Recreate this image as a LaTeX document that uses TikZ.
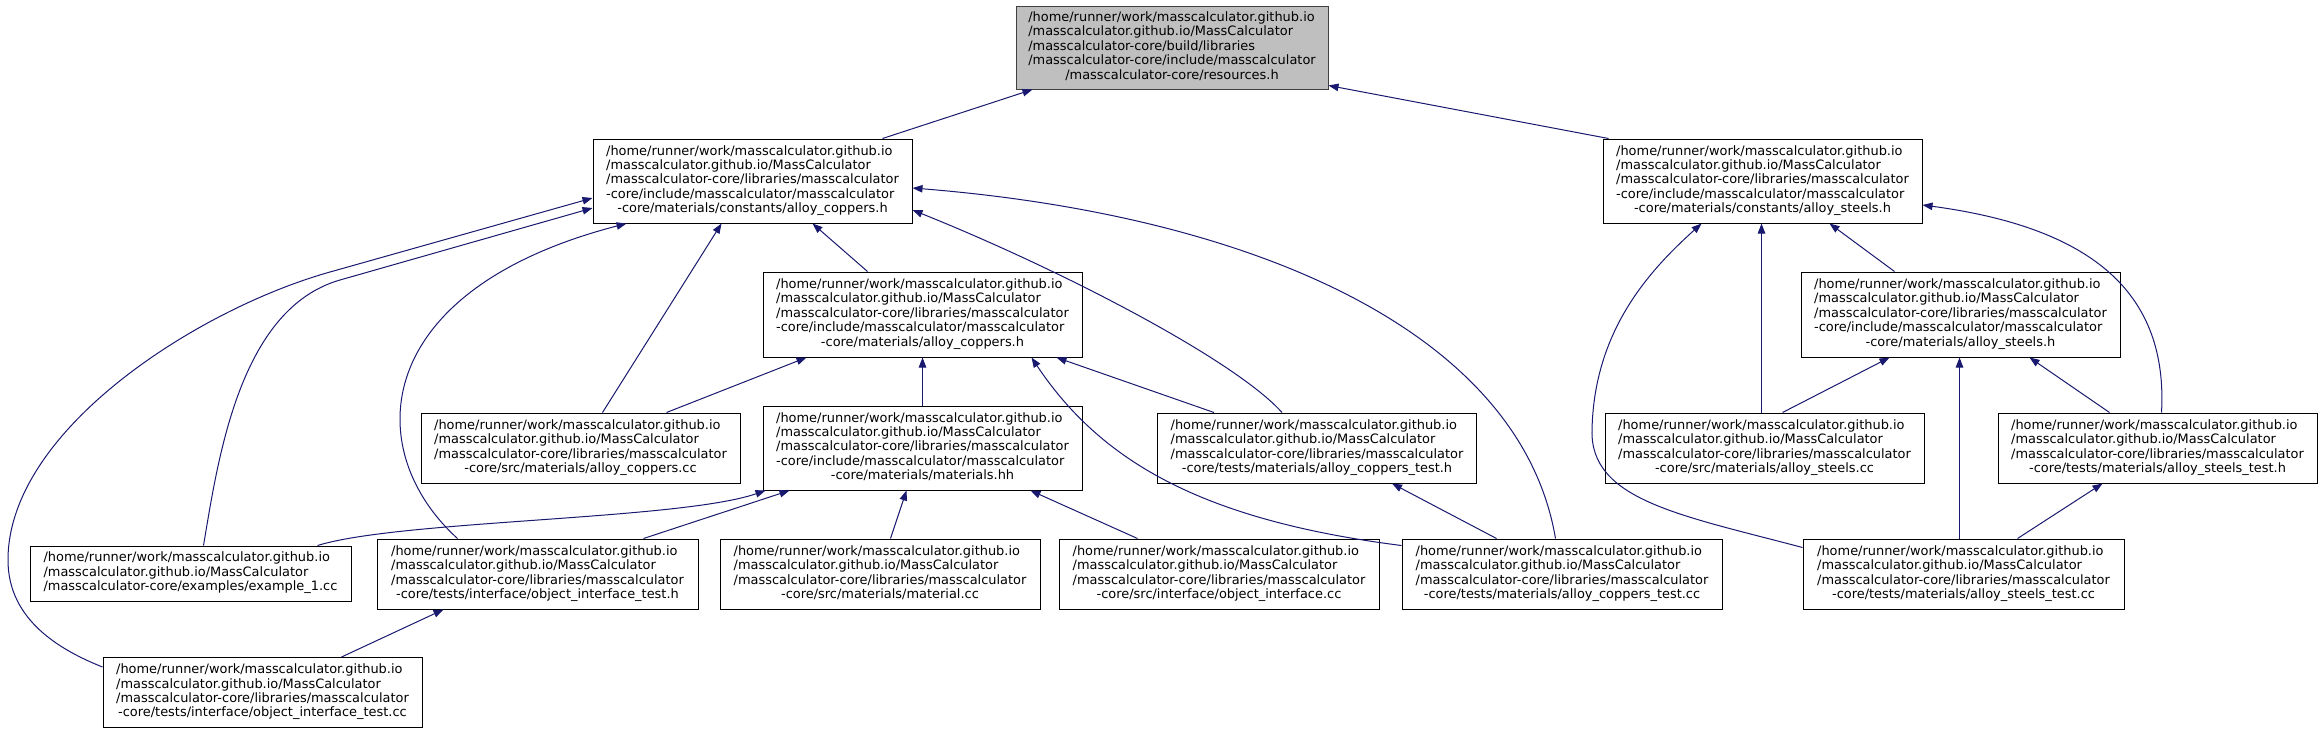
\documentclass[tikz,border=0pt]{standalone}
\usepackage{fontspec}
\setmainfont{DejaVu Sans}
\usetikzlibrary{arrows.meta,calc}
\definecolor{edgeblue}{HTML}{191970}
\definecolor{rootfill}{HTML}{BFBFBF}
\definecolor{rootdraw}{HTML}{404040}
\newcommand\mchdr{/home/runner/work/masscalculator.github.io\\/masscalculator.github.io/MassCalculator\\/masscalculator-core/libraries/masscalculator}
\newcommand\nodetxt[2]{\begin{tabular}{@{}l@{}}#1\\\multicolumn{1}{@{}c@{}}{#2}\end{tabular}}
\tikzset{
  filebox/.style 2 args={draw=black, fill=white, line width=0.75pt, inner sep=0pt,
    minimum width=#1*0.75pt, minimum height=#2*0.75pt,
    font=\fontsize{9.7}{10.8}\selectfont},
  rootbox/.style={fill=rootfill, draw=rootdraw},
  dep/.style={draw=edgeblue, line width=0.75pt, -{Triangle[length=7.5pt,width=5.6pt]}}
}
\begin{document}
\begin{tikzpicture}[x=0.75pt,y=-0.75pt]
\fill[white] (0,0) rectangle (2322,733);
\useasboundingbox (0,0) rectangle (2322,733);
% row 0
\node[filebox={312}{83}, rootbox] (R) at (1172,47.5) {\nodetxt{/home/runner/work/masscalculator.github.io\\/masscalculator.github.io/MassCalculator\\/masscalculator-core/build/libraries\\/masscalculator-core/include/masscalculator}{/masscalculator-core/resources.h}};
% row 1
\node[filebox={319}{84}] (C1) at (752.5,181) {\nodetxt{\mchdr\\-core/include/masscalculator/masscalculator}{-core/materials/constants/alloy\_coppers.h}};
\node[filebox={319}{84}] (S1) at (1762.5,181) {\nodetxt{\mchdr\\-core/include/masscalculator/masscalculator}{-core/materials/constants/alloy\_steels.h}};
% row 2
\node[filebox={319}{85}] (C2) at (922.5,314.5) {\nodetxt{\mchdr\\-core/include/masscalculator/masscalculator}{-core/materials/alloy\_coppers.h}};
\node[filebox={319}{85}] (S2) at (1960.5,314.5) {\nodetxt{\mchdr\\-core/include/masscalculator/masscalculator}{-core/materials/alloy\_steels.h}};
% row 3
\node[filebox={319}{70}] (CC) at (580.5,448) {\nodetxt{\mchdr}{-core/src/materials/alloy\_coppers.cc}};
\node[filebox={319}{84}] (M) at (922.5,448) {\nodetxt{\mchdr\\-core/include/masscalculator/masscalculator}{-core/materials/materials.hh}};
\node[filebox={319}{70}] (T1) at (1317,448) {\nodetxt{\mchdr}{-core/tests/materials/alloy\_coppers\_test.h}};
\node[filebox={319}{70}] (SC) at (1764.5,448) {\nodetxt{\mchdr}{-core/src/materials/alloy\_steels.cc}};
\node[filebox={319}{70}] (ST) at (2157.5,448) {\nodetxt{\mchdr}{-core/tests/materials/alloy\_steels\_test.h}};
% row 4
\node[filebox={321}{55}] (E1) at (190.5,573.5) {\nodetxt{/home/runner/work/masscalculator.github.io\\/masscalculator.github.io/MassCalculator}{/masscalculator-core/examples/example\_1.cc}};
\node[filebox={321}{70}] (OIT) at (537.5,574) {\nodetxt{\mchdr}{-core/tests/interface/object\_interface\_test.h}};
\node[filebox={320}{70}] (MC) at (880,574) {\nodetxt{\mchdr}{-core/src/materials/material.cc}};
\node[filebox={320}{70}] (OI) at (1219,574) {\nodetxt{\mchdr}{-core/src/interface/object\_interface.cc}};
\node[filebox={320}{70}] (CT) at (1562,574) {\nodetxt{\mchdr}{-core/tests/materials/alloy\_coppers\_test.cc}};
\node[filebox={321}{70}] (STC) at (1963.5,574) {\nodetxt{\mchdr}{-core/tests/materials/alloy\_steels\_test.cc}};
% row 5
\node[filebox={319}{70}] (OITC) at (262.5,692.5) {\nodetxt{\mchdr}{-core/tests/interface/object\_interface\_test.cc}};
% edges
\draw[dep] ($(C1.north west)+(290,0)$) -- ($(R.south west)+(17,0)$);
\draw[dep] ($(S1.north west)+(6,0)$) -- ($(R.south east)+(0,-4)$);
\draw[dep] ($(OITC.north west)+(0,10)$) .. controls (60,650) and (8,620) .. (8,560) .. controls (8,430) and (198,309) .. (330,272) -- ($(C1.west)+(0,17)$);
\draw[dep] ($(E1.north west)+(174,0)$) .. controls (218,460) and (239,309) .. (340,280) -- ($(C1.west)+(0,27)$);
\draw[dep] ($(OIT.north west)+(81,0)$) .. controls (360,450) and (370,290) .. ($(C1.south west)+(34,0)$);
\draw[dep] ($(CC.north west)+(182,0)$) -- ($(C1.south west)+(129,0)$);
\draw[dep] ($(C2.north west)+(105,0)$) -- ($(C1.south west)+(220,0)$);
\draw[dep] ($(T1.north west)+(125,0)$) .. controls (1235,360) and (1062,270) .. ($(C1.east)+(0,29)$);
\draw[dep] ($(CT.north west)+(154,0)$) .. controls (1520,330) and (1250,215) .. ($(C1.east)+(0,7)$);
\draw[dep] ($(CC.north west)+(246,0)$) -- ($(C2.south west)+(44,0)$);
\draw[dep] (M.north) -- (C2.south);
\draw[dep] ($(T1.north west)+(57,0)$) -- ($(C2.south west)+(294,0)$);
\draw[dep] ($(CT.north west)+(0,7)$) .. controls (1200,520) and (1100,460) .. ($(C2.south west)+(269,0)$);
\draw[dep] ($(E1.north east)+(-34,0)$) .. controls (400,520) and (680,520) .. ($(M.south west)+(3,0)$);
\draw[dep] ($(OIT.north west)+(267,0)$) -- ($(M.south west)+(27,0)$);
\draw[dep] ($(MC.north west)+(171,0)$) -- ($(M.south west)+(144,0)$);
\draw[dep] ($(OI.north west)+(79,0)$) -- ($(M.south west)+(268,0)$);
\draw[dep] ($(CT.north west)+(95,0)$) -- ($(T1.south west)+(235,0)$);
\draw[dep] ($(SC.north west)+(157,0)$) -- ($(S1.south west)+(159,0)$);
\draw[dep] ($(S2.north west)+(94,0)$) -- ($(S1.south west)+(227,0)$);
\draw[dep] ($(STC.north west)+(0,9)$) .. controls (1680,515) and (1590,500) .. (1592,430) .. controls (1594,330) and (1650,270) .. ($(S1.south west)+(99,0)$);
\draw[dep] ($(ST.north west)+(164,0)$) .. controls (2168,295) and (2095,228) .. ($(S1.east)+(0,24)$);
\draw[dep] ($(SC.north west)+(178,0)$) -- ($(S2.south west)+(89,0)$);
\draw[dep] ($(STC.north west)+(157,0)$) -- ($(S2.south west)+(159,0)$);
\draw[dep] ($(ST.north west)+(112,0)$) -- ($(S2.south west)+(229,0)$);
\draw[dep] ($(STC.north west)+(215,0)$) -- ($(ST.south west)+(105,0)$);
\draw[dep] ($(OITC.north west)+(239,0)$) -- ($(OIT.south west)+(67,0)$);
\end{tikzpicture}
\end{document}
